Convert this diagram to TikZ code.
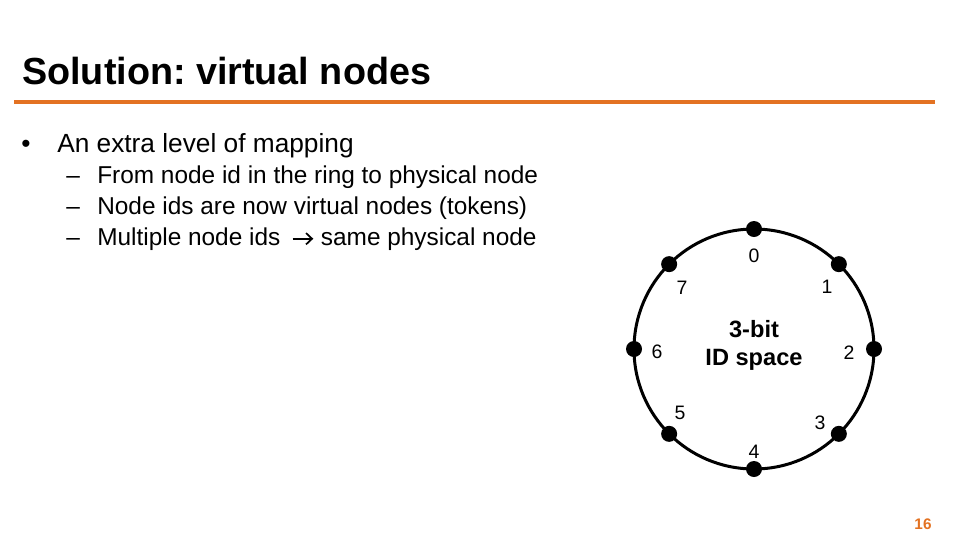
\documentclass[tikz,border=0pt]{standalone}
\usepackage{fontspec}
\setmainfont{Liberation Sans}
\usetikzlibrary{arrows.meta}
\frenchspacing
\definecolor{slideorange}{RGB}{227,114,34}
\begin{document}
\begin{tikzpicture}[x=0.75pt,y=-0.75pt,
    txt/.style={anchor=base west,inner sep=0pt},
    body/.style={txt,font=\fontsize{19.7}{24}\selectfont},
    sub/.style={txt,font=\fontsize{18.3}{22}\selectfont},
    maps/.style={line width=1.3pt,-{Straight Barb[length=4.5pt,width=8.5pt,line width=1.3pt]}},
    dot/.style={circle,fill=black,inner sep=0pt,minimum size=12pt},
    idlabel/.style={inner sep=0pt,font=\fontsize{14.6}{17}\selectfont}]
  \useasboundingbox (0,0) rectangle (960,540);
  % title and rule
  \node[txt,font=\bfseries\fontsize{28.3}{34}\selectfont] (title) at (22,84) {Solution: virtual nodes};
  \coordinate (ruleL) at (14,102);
  \coordinate (ruleR) at (935,102);
  \draw[slideorange,line width=2.4pt] (ruleL) -- (ruleR);
  % bullets
  \node[body] (bul) at (21,152) {•};
  \node[body] (item) at (57,152) {An extra level of mapping};
  \node[sub] (dashA) at (66,183) {–};
  \node[sub] (subA) at (97,183) {From node id in the ring to physical node};
  \node[sub] (dashB) at (66,214) {–};
  \node[sub] (subB) at (97,214) {Node ids are now virtual nodes (tokens)};
  \node[sub] (dashC) at (66,245) {–};
  \node[sub] (subC) at (97,245) {Multiple node ids};
  \node[sub] (subD) at ([xshift=30pt]subC.base east) {same physical node};
  \draw[maps] ([xshift=9pt,yshift=4.7pt]subC.base east) -- ([xshift=-5.5pt,yshift=4.7pt]subD.base west);
  % ring
  \coordinate (c) at (754,349);
  \draw[line width=2.25pt] (c) circle [radius=120];
  \foreach \a/\n in {-90/0,-45/1,0/2,45/3,90/4,135/5,180/6,-135/7}
    \path (c) ++(\a:120) node[dot] (d\n) {};
  \node[idlabel] (l0) at (754,256) {0};
  \node[idlabel] (l1) at (827,287) {1};
  \node[idlabel] (l2) at (849,353) {2};
  \node[idlabel] (l3) at (820,423) {3};
  \node[idlabel] (l4) at (754,452) {4};
  \node[idlabel] (l5) at (680,413) {5};
  \node[idlabel] (l6) at (657,352) {6};
  \node[idlabel] (l7) at (682,288) {7};
  \node[align=center,inner sep=0pt,font=\bfseries\fontsize{17.7}{21}\selectfont] (space) at (754,345) {3-bit\\ID space};
  % page number
  \node[anchor=base,inner sep=0pt,text=slideorange,font=\bfseries\fontsize{11.5}{14}\selectfont] (page) at (923,529) {16};
\end{tikzpicture}
\end{document}
